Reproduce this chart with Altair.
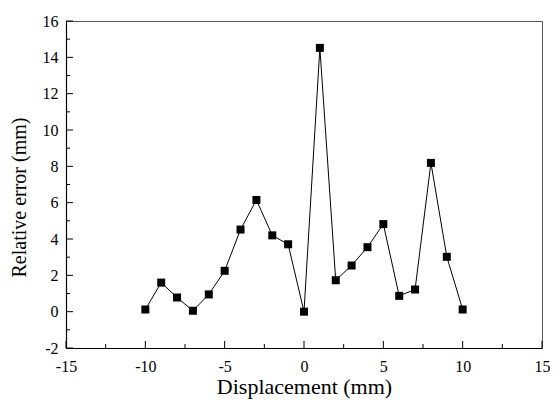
import altair as alt
import pandas as pd

displacement = [-10, -9, -8, -7, -6, -5, -4, -3, -2, -1, 0, 1, 2, 3, 4, 5, 6, 7, 8, 9, 10]
rel_error = [0.12, 1.6, 0.78, 0.05, 0.95, 2.25, 4.52, 6.15, 4.2, 3.71, 0.0,
             14.52, 1.73, 2.54, 3.55, 4.82, 0.87, 1.22, 8.19, 3.02, 0.12]

x_major = [-15, -10, -5, 0, 5, 10, 15]
x_minor = [-12.5, -7.5, -2.5, 2.5, 7.5, 12.5]
y_major = [-2, 0, 2, 4, 6, 8, 10, 12, 14, 16]
y_minor = [-1, 1, 3, 5, 7, 9, 11, 13, 15]

W, H = 476, 327
FONT = "Liberation Serif, Times New Roman, Times, serif"

df = pd.DataFrame({"x": displacement, "y": rel_error})

xs = alt.Scale(domain=[-15, 15], nice=False, zero=False)
ys = alt.Scale(domain=[-2, 16], nice=False, zero=False)

common = dict(ticks=False, grid=False, domainColor="black", domainWidth=1.2,
              labelOverlap=False, labelFlush=False, labelExpr="'' + datum.value",
              labelFont=FONT, titleFont=FONT, labelFontSize=16,
              labelColor="black", titleColor="black", titleFontWeight="normal")
xaxis = alt.Axis(values=x_major, title="Displacement (mm)", labelPadding=10, titlePadding=2,
                 titleFontSize=22, **common)
yaxis = alt.Axis(values=y_major, title="Relative error (mm)", labelPadding=8, titlePadding=13,
                 titleFontSize=20, titleY=176, **common)

line = alt.Chart(df).mark_line(color="black", strokeWidth=1).encode(
    x=alt.X("x:Q", scale=xs, axis=xaxis),
    y=alt.Y("y:Q", scale=ys, axis=yaxis),
)
pts = alt.Chart(df).mark_square(color="black", size=64, opacity=1).encode(
    x=alt.X("x:Q", scale=xs, axis=xaxis),
    y=alt.Y("y:Q", scale=ys, axis=yaxis),
)

ymaj = alt.Chart(pd.DataFrame({"v": y_major})).mark_rule(color="black", strokeWidth=1).encode(
    y=alt.Y("v:Q", scale=ys, axis=yaxis), x=alt.value(0), x2=alt.value(7))
ymin = alt.Chart(pd.DataFrame({"v": y_minor})).mark_rule(color="black", strokeWidth=1).encode(
    y=alt.Y("v:Q", scale=ys, axis=yaxis), x=alt.value(0), x2=alt.value(4))
xmaj = alt.Chart(pd.DataFrame({"v": x_major})).mark_rule(color="black", strokeWidth=1).encode(
    x=alt.X("v:Q", scale=xs, axis=xaxis), y=alt.value(H), y2=alt.value(H - 7))
xmin = alt.Chart(pd.DataFrame({"v": x_minor})).mark_rule(color="black", strokeWidth=1).encode(
    x=alt.X("v:Q", scale=xs, axis=xaxis), y=alt.value(H), y2=alt.value(H - 4))

chart = alt.layer(ymaj, ymin, xmaj, xmin, line, pts).properties(
    width=W, height=H,
    autosize=alt.AutoSizeParams(type="none"),
    padding={"left": 58, "top": 13, "right": 8, "bottom": 56},
).configure(font=FONT).configure_view(stroke="#555", strokeWidth=1)

chart.save("out.html", embed_options={"renderer": "svg", "actions": False})
